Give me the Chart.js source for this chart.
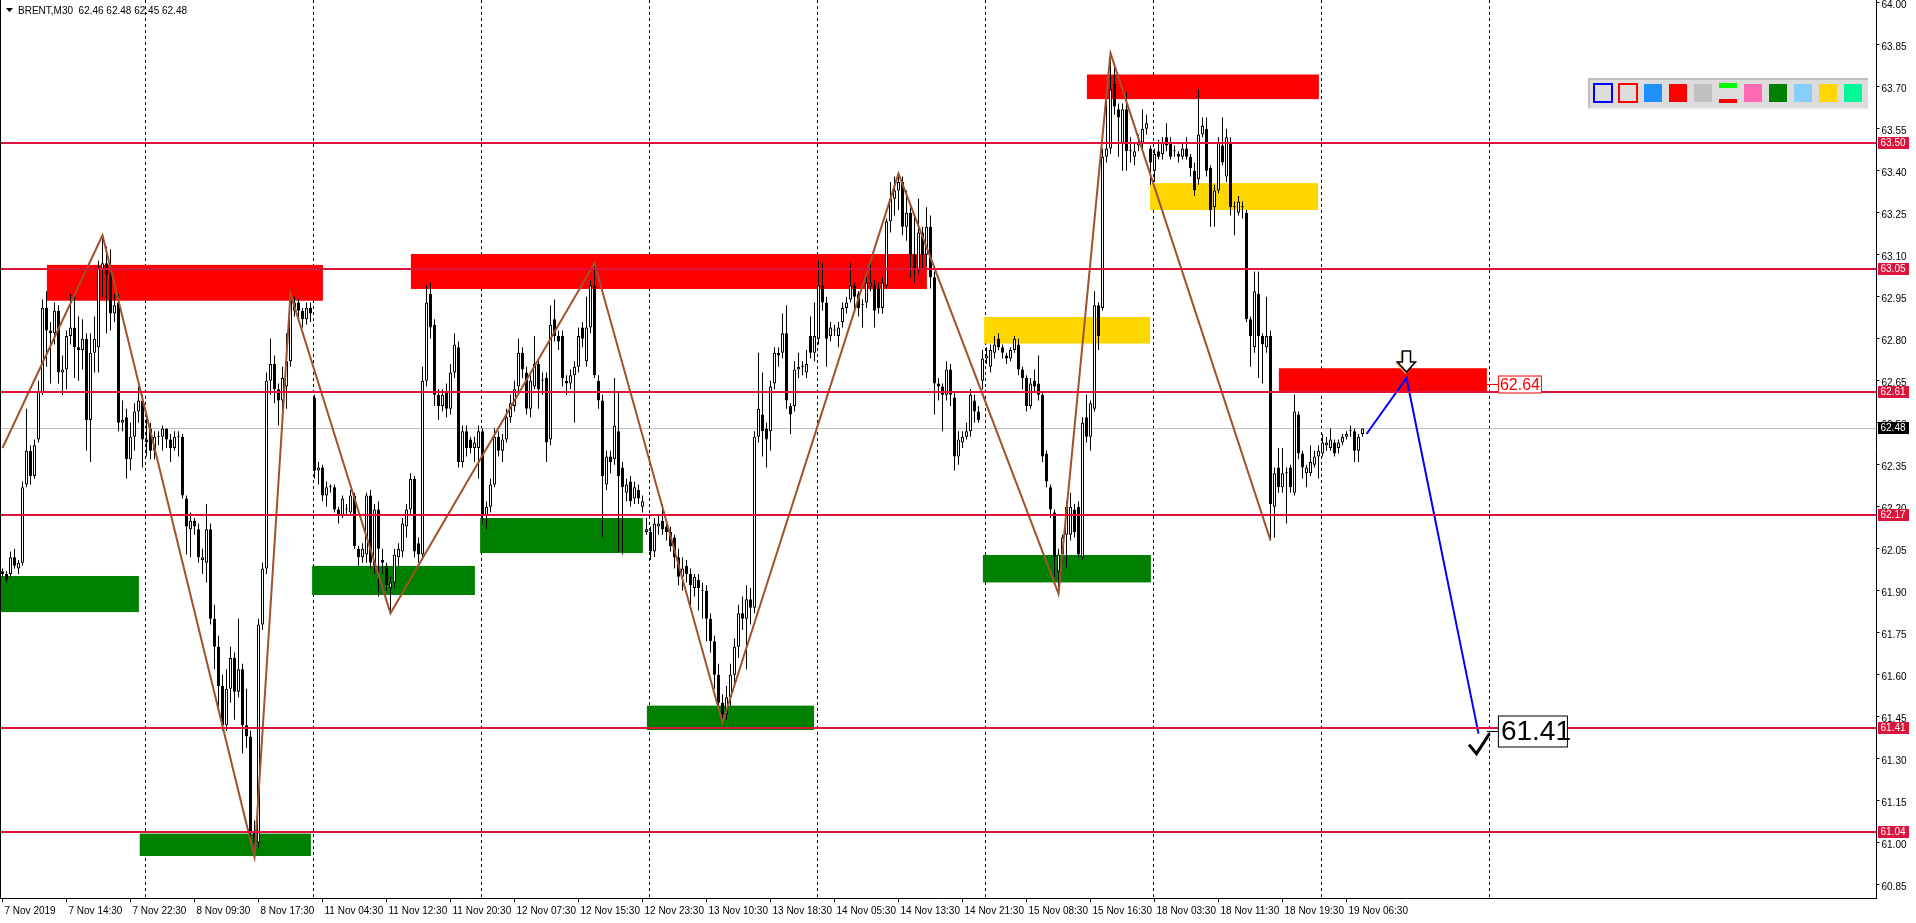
<!doctype html>
<html lang="en">
<head>
<meta charset="utf-8">
<title>BRENT,M30</title>
<script src="https://cdn.jsdelivr.net/npm/chart.js"></script>
<style>
  html, body { margin: 0; padding: 0; background: #fff; overflow: hidden; }
  canvas { display: block; }
</style>
</head>
<body>
<canvas id="chartEl" width="1916" height="923"></canvas>
<script>
// M30 candles (bar 0 = 7 Nov 06:30)
const opens = [
  61.97,61.96,61.96,62.02,61.98,62.00,62.28,62.40,62.31,62.44,
  62.61,62.91,62.83,62.82,62.90,62.68,62.69,62.81,62.84,62.77,
  62.76,62.80,62.51,62.75,62.77,63.05,63.07,63.03,62.89,62.93,
  62.50,62.52,62.37,62.45,62.54,62.58,62.44,62.48,62.40,62.45,
  62.45,62.48,62.44,62.41,62.45,62.45,62.23,62.12,62.15,62.12,
  62.01,62.00,62.12,61.80,61.70,61.56,61.42,61.55,61.66,61.54,
  61.62,61.42,61.38,61.04,61.00,61.78,61.98,62.65,62.71,62.62,
  62.58,62.63,62.72,62.90,62.93,62.90,62.87,62.91,62.59,62.33,
  62.34,62.24,62.27,62.27,62.19,62.17,62.19,62.18,62.24,62.05,
  62.02,62.03,62.24,61.99,62.19,62.01,61.99,61.91,61.93,62.02,
  62.04,62.13,62.19,62.30,62.07,62.03,62.65,62.96,62.85,62.60,
  62.56,62.61,62.55,62.68,62.77,62.36,62.47,62.44,62.41,62.41,
  62.47,62.17,62.20,62.28,62.45,62.40,62.44,62.52,62.56,62.63,
  62.75,62.68,62.55,62.63,62.71,62.65,62.66,62.44,62.87,62.81,
  62.81,62.65,62.64,62.67,62.70,62.84,62.72,62.84,62.99,62.65,
  62.58,62.28,62.38,62.37,62.47,62.34,62.25,62.29,62.23,62.26,
  62.20,62.11,62.11,62.04,62.13,62.15,62.13,62.11,62.09,62.02,
  61.95,61.99,61.96,61.91,61.94,61.90,61.90,61.80,61.72,61.60,
  61.50,61.46,61.52,61.60,61.70,61.82,61.80,61.87,61.84,62.45,
  62.53,62.48,62.47,62.64,62.75,62.75,62.82,62.56,62.56,62.69,
  62.70,62.68,62.81,62.75,62.80,62.99,62.93,62.81,62.83,62.81,
  62.86,62.91,62.94,62.99,62.96,62.92,62.93,62.99,62.99,62.98,
  62.91,62.99,63.22,63.30,63.33,63.36,63.20,63.25,63.10,63.05,
  63.18,63.10,63.20,63.02,62.64,62.63,62.60,62.69,62.59,62.38,
  62.43,62.45,62.47,62.58,62.54,62.65,62.73,62.70,62.75,62.80,
  62.77,62.74,62.73,62.76,62.78,62.69,62.66,62.56,62.65,62.64,
  62.60,62.39,62.27,62.18,61.97,62.03,62.10,62.10,62.19,62.20,
  62.02,62.52,62.45,62.55,62.92,62.91,63.45,63.48,63.71,63.62,
  63.50,63.62,63.47,63.45,63.49,63.50,63.55,63.48,63.40,63.47,
  63.46,63.52,63.50,63.47,63.46,63.45,63.48,63.45,63.40,63.37,
  63.53,63.55,63.41,63.27,63.33,63.49,63.38,63.50,63.27,63.25,
  63.27,63.25,62.87,62.77,62.96,62.81,62.77,62.81,62.20,62.34,
  62.27,62.32,62.34,62.25,62.53,62.39,62.32,62.32,62.35,62.38,
  62.39,62.42,62.41,62.43,62.41,62.43,62.45,62.47,62.47,62.40,
  62.46
];
const highs = [
  61.98,61.97,62.04,62.05,62.01,62.29,62.55,62.42,62.44,62.65,
  62.94,62.97,62.86,62.93,62.92,62.74,62.83,62.96,62.95,62.88,
  62.87,62.82,62.82,62.88,63.08,63.17,63.13,63.12,62.96,62.96,
  62.58,62.55,62.50,62.57,62.63,62.60,62.52,62.50,62.47,62.47,
  62.49,62.48,62.46,62.47,62.47,62.46,62.24,62.18,62.16,62.14,
  62.05,62.21,62.14,61.85,61.74,61.60,61.62,61.70,61.68,61.80,
  61.64,61.55,61.40,61.08,61.80,62.00,62.68,62.80,62.74,62.64,
  62.70,62.82,62.96,62.95,62.94,62.91,62.93,62.93,62.60,62.36,
  62.35,62.29,62.28,62.28,62.20,62.24,62.21,62.26,62.25,62.06,
  62.07,62.25,62.26,62.21,62.22,62.05,62.00,61.95,62.05,62.07,
  62.16,62.21,62.32,62.31,62.09,62.70,62.99,63.00,62.87,62.62,
  62.62,62.64,62.71,62.82,62.79,62.49,62.49,62.45,62.45,62.49,
  62.48,62.22,62.30,62.48,62.47,62.46,62.55,62.60,62.65,62.80,
  62.77,62.70,62.67,62.81,62.73,62.68,62.68,62.92,62.94,62.83,
  62.83,62.67,62.69,62.72,62.84,62.86,62.95,63.01,63.07,62.67,
  62.60,62.40,62.40,62.66,62.61,62.36,62.30,62.31,62.29,62.28,
  62.24,62.16,62.13,62.16,62.17,62.21,62.14,62.13,62.10,62.05,
  62.02,62.01,61.98,61.96,61.96,61.93,61.92,61.82,61.74,61.64,
  61.53,61.56,61.64,61.73,61.85,61.88,61.92,61.91,62.47,62.75,
  62.68,62.50,62.65,62.77,62.77,62.89,62.92,62.57,62.72,62.75,
  62.72,62.76,62.88,62.93,63.08,63.07,62.95,62.86,62.85,62.86,
  62.93,62.95,63.07,63.00,62.97,62.94,63.02,63.08,63.01,63.00,
  63.02,63.23,63.36,63.38,63.39,63.38,63.33,63.28,63.24,63.30,
  63.20,63.27,63.24,63.04,62.66,62.64,62.72,62.71,62.61,62.47,
  62.47,62.50,62.62,62.60,62.56,62.76,62.77,62.78,62.81,62.82,
  62.78,62.75,62.77,62.81,62.80,62.70,62.67,62.66,62.69,62.74,
  62.61,62.40,62.28,62.19,62.05,62.10,62.22,62.25,62.21,62.22,
  62.52,62.60,62.58,62.97,62.93,63.48,63.69,63.82,63.77,63.64,
  63.64,63.68,63.52,63.50,63.53,63.62,63.60,63.49,63.48,63.51,
  63.52,63.57,63.52,63.49,63.47,63.50,63.52,63.46,63.43,63.69,
  63.59,63.59,63.42,63.35,63.52,63.59,63.55,63.52,63.29,63.31,
  63.29,63.26,62.88,63.04,63.04,62.82,62.95,62.83,62.34,62.41,
  62.41,62.34,62.35,62.60,62.54,62.40,62.35,62.42,62.40,62.42,
  62.46,62.45,62.48,62.44,62.44,62.46,62.47,62.49,62.48,62.46,
  62.48
];
const lows = [
  61.95,61.93,61.95,61.98,61.96,61.99,62.27,62.28,62.30,62.43,
  62.60,62.70,62.64,62.78,62.64,62.60,62.62,62.78,62.66,62.65,
  62.69,62.40,62.36,62.68,62.68,62.95,62.82,62.83,62.86,62.47,
  62.47,62.30,62.33,62.40,62.50,62.34,62.38,62.37,62.37,62.42,
  62.40,62.41,62.36,62.40,62.38,62.23,62.03,62.02,62.10,62.00,
  61.96,61.93,61.78,61.62,61.48,61.40,61.40,61.50,61.44,61.52,
  61.32,61.34,61.00,60.95,60.98,61.76,61.96,62.60,62.57,62.49,
  62.50,62.55,62.70,62.88,62.86,62.84,62.85,62.86,62.30,62.28,
  62.22,62.20,62.25,62.18,62.14,62.16,62.17,62.17,62.05,61.99,
  62.00,62.00,61.98,61.96,61.88,61.96,61.90,61.82,61.91,61.99,
  62.02,62.09,62.17,62.02,62.00,62.01,62.63,62.80,62.56,62.51,
  62.54,62.52,62.53,62.66,62.34,62.34,62.38,62.39,62.36,62.30,
  62.14,62.12,62.18,62.27,62.38,62.36,62.43,62.50,62.54,62.61,
  62.66,62.53,62.52,62.62,62.55,62.60,62.36,62.42,62.79,62.76,
  62.63,62.60,62.62,62.50,62.68,62.77,62.70,62.82,62.66,62.55,
  62.09,62.26,62.32,62.35,62.04,62.03,62.22,62.20,62.21,62.21,
  62.18,62.10,62.01,62.02,62.10,62.10,62.08,62.04,61.98,61.92,
  61.90,61.93,61.85,61.88,61.83,61.80,61.72,61.68,61.55,61.47,
  61.43,61.44,61.49,61.57,61.66,61.76,61.62,61.78,61.82,62.43,
  62.38,62.34,62.40,62.62,62.70,62.73,62.55,62.46,62.54,62.66,
  62.67,62.66,62.73,62.72,62.78,62.90,62.70,62.79,62.81,62.77,
  62.84,62.89,62.93,62.90,62.88,62.84,62.91,62.97,62.84,62.89,
  62.89,62.98,63.18,63.24,63.26,63.17,63.15,63.02,63.00,63.03,
  63.05,63.06,62.98,62.53,62.58,62.47,62.58,62.56,62.33,62.35,
  62.41,62.44,62.45,62.50,62.50,62.62,62.71,62.68,62.73,62.76,
  62.73,62.71,62.72,62.75,62.67,62.62,62.54,62.55,62.61,62.58,
  62.36,62.27,62.16,61.95,61.89,62.00,61.98,62.08,62.09,62.02,
  62.01,62.43,62.40,62.54,62.76,62.90,63.43,63.46,63.60,63.45,
  63.40,63.40,63.43,63.42,63.47,63.48,63.53,63.35,63.36,63.44,
  63.44,63.47,63.44,63.45,63.43,63.44,63.44,63.38,63.31,63.35,
  63.52,63.38,63.20,63.20,63.32,63.42,63.36,63.24,63.17,63.24,
  63.23,62.86,62.70,62.75,62.66,62.64,62.75,62.08,62.09,62.25,
  62.25,62.14,62.25,62.24,62.37,62.30,62.27,62.31,62.34,62.30,
  62.38,62.40,62.40,62.38,62.39,62.42,62.44,62.45,62.36,62.36,
  62.45
];
const closes = [
  61.96,61.94,62.02,61.99,62.00,62.27,62.40,62.31,62.42,62.61,
  62.91,62.83,62.82,62.90,62.68,62.69,62.81,62.84,62.77,62.76,
  62.80,62.51,62.75,62.80,63.05,63.07,63.03,62.89,62.92,62.50,
  62.51,62.37,62.45,62.54,62.58,62.44,62.43,62.40,62.45,62.45,
  62.48,62.44,62.41,62.45,62.45,62.24,62.13,62.15,62.13,62.02,
  62.02,62.12,61.80,61.70,61.56,61.42,61.55,61.66,61.54,61.62,
  61.42,61.38,61.04,61.00,61.78,61.98,62.65,62.71,62.62,62.58,
  62.66,62.72,62.94,62.93,62.90,62.87,62.91,62.89,62.33,62.34,
  62.24,62.27,62.27,62.19,62.17,62.23,62.19,62.24,62.06,62.02,
  62.05,62.24,62.00,62.19,62.05,62.00,61.92,61.93,62.03,62.05,
  62.14,62.19,62.30,62.04,62.03,62.65,62.93,62.84,62.60,62.56,
  62.60,62.55,62.68,62.78,62.36,62.47,62.41,62.41,62.43,62.47,
  62.17,62.20,62.28,62.45,62.40,62.44,62.52,62.57,62.62,62.75,
  62.69,62.55,62.65,62.71,62.62,62.65,62.43,62.85,62.81,62.79,
  62.66,62.64,62.67,62.70,62.81,62.80,62.84,62.99,62.67,62.58,
  62.31,62.38,62.36,62.49,62.31,62.27,62.28,62.22,62.27,62.23,
  62.22,62.12,62.04,62.14,62.14,62.12,62.11,62.06,62.02,61.95,
  61.98,61.96,61.92,61.95,61.91,61.90,61.80,61.72,61.60,61.50,
  61.46,61.52,61.60,61.70,61.82,61.80,61.87,61.84,62.45,62.55,
  62.47,62.44,62.63,62.75,62.74,62.82,62.58,62.53,62.69,62.70,
  62.70,62.71,62.75,62.81,62.99,62.93,62.80,62.84,62.83,62.84,
  62.91,62.93,62.99,62.95,62.91,62.92,63.00,63.00,62.90,62.91,
  63.00,63.22,63.30,63.33,63.36,63.20,63.25,63.10,63.05,63.18,
  63.10,63.20,63.02,62.64,62.63,62.60,62.69,62.60,62.38,62.44,
  62.45,62.47,62.60,62.54,62.51,62.73,62.74,62.76,62.78,62.77,
  62.75,62.73,62.76,62.80,62.69,62.66,62.56,62.64,62.63,62.60,
  62.38,62.29,62.19,62.02,62.03,62.09,62.20,62.20,62.11,62.03,
  62.50,62.45,62.57,62.92,62.81,63.45,63.48,63.69,63.63,63.59,
  63.62,63.47,63.47,63.47,63.50,63.55,63.57,63.43,63.46,63.45,
  63.50,63.49,63.45,63.47,63.45,63.48,63.45,63.41,63.33,63.53,
  63.56,63.40,63.26,63.33,63.50,63.43,63.52,63.27,63.27,63.29,
  63.27,62.87,62.81,62.97,62.81,62.78,62.81,62.21,62.32,62.27,
  62.32,62.32,62.27,62.54,62.39,62.34,62.34,62.36,62.38,62.40,
  62.43,62.43,62.44,62.39,62.43,62.45,62.46,62.47,62.40,62.45,
  62.48
];

// time axis: one label every 16 bars
const timeLabels = ['7 Nov 2019', '7 Nov 14:30', '7 Nov 22:30', '8 Nov 09:30', '8 Nov 17:30',
  '11 Nov 04:30', '11 Nov 12:30', '11 Nov 20:30', '12 Nov 07:30', '12 Nov 15:30', '12 Nov 23:30',
  '13 Nov 10:30', '13 Nov 18:30', '14 Nov 05:30', '14 Nov 13:30', '14 Nov 21:30', '15 Nov 08:30',
  '15 Nov 16:30', '18 Nov 03:30', '18 Nov 11:30', '18 Nov 19:30', '19 Nov 06:30'];
const labelStep = 16;
const totalBars = 469;
const gridBars = [36, 78, 120, 162, 204, 246, 288, 330, 372];

const priceTicks = [64.00, 63.85, 63.70, 63.55, 63.40, 63.25, 63.10, 62.95, 62.80, 62.65, 62.50,
  62.35, 62.20, 62.05, 61.90, 61.75, 61.60, 61.45, 61.30, 61.15, 61.00, 60.85];
const levelPrices = [63.50, 63.05, 62.61, 62.17, 61.41, 61.04];
const lastPrice = 62.48;
const ohlcTitle = 'BRENT,M30  62.46 62.48 62.45 62.48';

// zigzag pivots
const zigzagBars = [0, 25, 63, 72, 97, 148, 180, 224, 264, 277, 317];
const zigzagPrices = [62.41, 63.17, 60.95, 62.96, 61.82, 63.07, 61.43, 63.39, 61.89, 63.82, 62.08];

// forecast path
const forecastBars = [341, 351, 369];
const forecastPrices = [62.46, 62.66, 61.39];
const entryPrice = 62.64;
const targetPrice = 61.41;
const labelBar = 371.1;

// zones: [fromBar, toBar, top, bottom]
const redZones = [[11.1, 80.1, 63.064, 62.936], [102.1, 231.1, 63.103, 62.978],
  [271.1, 329.1, 63.744, 63.656], [319.1, 371.1, 62.695, 62.61]];
const greenZones = [[-0.5, 34.1, 61.953, 61.824], [34.3, 77.1, 61.033, 60.953],
  [77.4, 118.1, 61.989, 61.885], [119.4, 160.1, 62.16, 62.035],
  [161.1, 202.9, 61.49, 61.403], [245.1, 287.1, 62.028, 61.93]];
const yellowZones = [[245.4, 286.9, 62.878, 62.783], [286.9, 328.9, 63.356, 63.26]];

const legendItems = [['outline', '#0000FF'], ['outline', '#FF0000'], ['fill', '#1E90FF'],
  ['fill', '#FF0000'], ['fill', '#C0C0C0'], ['split', '#00FF00', '#FF0000'], ['fill', '#FF69B4'],
  ['fill', '#008000'], ['fill', '#87CEFA'], ['fill', '#FFD700'], ['fill', '#00FA9A']];

const FONT = 'Liberation Sans';
const CRIMSON = '#DC143C';

const barLabels = Array.from({ length: totalBars }, (_, i) => i);
const wickData = lows.map((l, i) => [l, highs[i]]);
const bodyData = opens.map((o, i) => [o, closes[i]]);
const pointsAt = (bars, prices) => barLabels.map((i) => {
  const k = bars.indexOf(i);
  return k >= 0 ? prices[k] : null;
});

const drawZones = (ctx, xs, ys, zones, color) => {
  ctx.fillStyle = color;
  zones.forEach(([a, b, top, bottom]) => {
    const x0 = xs.getPixelForValue(a);
    const x1 = xs.getPixelForValue(b);
    const y0 = ys.getPixelForValue(top);
    const y1 = ys.getPixelForValue(bottom);
    ctx.fillRect(x0, y0, x1 - x0, y1 - y0);
  });
};

const drawAxisTag = (ctx, area, ys, price, bg) => {
  const y = ys.getPixelForValue(price);
  ctx.fillStyle = bg;
  ctx.fillRect(area.right + 1.5, Math.round(y) - 6, 31, 12);
  ctx.fillStyle = '#fff';
  ctx.font = `10px "${FONT}"`;
  ctx.textAlign = 'left';
  ctx.textBaseline = 'middle';
  ctx.fillText(price.toFixed(2), area.right + 4, Math.round(y) + 0.5);
};

const mtPlugin = {
  id: 'mtObjects',
  beforeDatasetsDraw(chart) {
    const { ctx, chartArea: area, scales: { x: xs, y: ys } } = chart;
    ctx.save();
    // dashed period separators
    ctx.strokeStyle = '#000';
    ctx.lineWidth = 1;
    ctx.setLineDash([3, 3]);
    gridBars.forEach((b) => {
      const x = Math.round(xs.getPixelForValue(b - 0.5)) + 0.5;
      ctx.beginPath();
      ctx.moveTo(x, area.top);
      ctx.lineTo(x, area.bottom);
      ctx.stroke();
    });
    ctx.setLineDash([]);
    drawZones(ctx, xs, ys, redZones, '#FF0000');
    drawZones(ctx, xs, ys, greenZones, '#008000');
    drawZones(ctx, xs, ys, yellowZones, '#FFD700');
    // current price line
    const yl = Math.round(ys.getPixelForValue(lastPrice)) + 0.5;
    ctx.strokeStyle = '#C0C0C0';
    ctx.beginPath();
    ctx.moveTo(area.left, yl);
    ctx.lineTo(area.right, yl);
    ctx.stroke();
    ctx.restore();
  },
  afterDatasetsDraw(chart) {
    const { ctx, chartArea: area, scales: { x: xs, y: ys } } = chart;
    ctx.save();
    // horizontal levels
    ctx.strokeStyle = CRIMSON;
    ctx.lineWidth = 2;
    levelPrices.forEach((p) => {
      const y = Math.round(ys.getPixelForValue(p));
      ctx.beginPath();
      ctx.moveTo(area.left, y);
      ctx.lineTo(area.right, y);
      ctx.stroke();
    });

    // down arrow over the forecast top
    const ax = xs.getPixelForValue(forecastBars[1]);
    const tip = ys.getPixelForValue(forecastPrices[1]) - 6;
    const arrowPath = (dx, dy) => {
      ctx.beginPath();
      ctx.moveTo(ax - 4 + dx, tip - 21 + dy);
      ctx.lineTo(ax + 4 + dx, tip - 21 + dy);
      ctx.lineTo(ax + 4 + dx, tip - 10 + dy);
      ctx.lineTo(ax + 9 + dx, tip - 10 + dy);
      ctx.lineTo(ax + dx, tip + dy);
      ctx.lineTo(ax - 9 + dx, tip - 10 + dy);
      ctx.lineTo(ax - 4 + dx, tip - 10 + dy);
      ctx.closePath();
    };
    ctx.lineWidth = 1.5;
    arrowPath(-1, 1);
    ctx.strokeStyle = '#F4A460';
    ctx.stroke();
    arrowPath(0, 0);
    ctx.fillStyle = '#fff';
    ctx.fill();
    ctx.strokeStyle = '#000';
    ctx.stroke();

    // check mark at the target
    const cx = xs.getPixelForValue(forecastBars[2]);
    const cy = ys.getPixelForValue(forecastPrices[2]);
    ctx.beginPath();
    ctx.moveTo(cx - 9.5, cy + 11);
    ctx.lineTo(cx - 2, cy + 20);
    ctx.lineTo(cx + 11, cy);
    ctx.lineWidth = 3;
    ctx.strokeStyle = '#000';
    ctx.stroke();

    const lx = xs.getPixelForValue(labelBar);
    // 62.64 label
    const ey = Math.round(ys.getPixelForValue(entryPrice)) + 0.5;
    ctx.lineWidth = 1;
    ctx.strokeStyle = '#FF0000';
    ctx.beginPath();
    ctx.moveTo(lx, ey);
    ctx.lineTo(lx + 11, ey);
    ctx.stroke();
    ctx.fillStyle = '#fff';
    ctx.fillRect(lx + 11, ey - 9, 44, 18);
    ctx.strokeRect(lx + 11.5, ey - 8.5, 43, 17);
    ctx.fillStyle = '#FF0000';
    ctx.font = `16px "${FONT}"`;
    ctx.textAlign = 'left';
    ctx.textBaseline = 'middle';
    ctx.fillText(entryPrice.toFixed(2), lx + 13, ey + 1);

    // 61.41 label
    const ty = Math.round(ys.getPixelForValue(targetPrice)) + 3.5;
    ctx.strokeStyle = '#000';
    ctx.beginPath();
    ctx.moveTo(lx, ty);
    ctx.lineTo(lx + 11, ty);
    ctx.stroke();
    ctx.fillStyle = '#fff';
    ctx.fillRect(lx + 11, ty - 16, 70, 32);
    ctx.strokeRect(lx + 11.5, ty - 15.5, 69, 31);
    ctx.fillStyle = '#000';
    ctx.font = `28px "${FONT}"`;
    ctx.fillText(targetPrice.toFixed(2), lx + 14, ty + 1);
    ctx.restore();
  },
  afterDraw(chart) {
    const { ctx, chartArea: area, scales: { y: ys } } = chart;
    ctx.save();
    // left frame
    ctx.fillStyle = '#000';
    ctx.fillRect(0, area.top, 1, area.bottom - area.top);

    // symbol line
    ctx.beginPath();
    ctx.moveTo(6, 8);
    ctx.lineTo(13, 8);
    ctx.lineTo(9.5, 12);
    ctx.closePath();
    ctx.fill();
    ctx.font = `10px "${FONT}"`;
    ctx.textAlign = 'left';
    ctx.textBaseline = 'middle';
    ctx.fillText(ohlcTitle, 18, 11);

    // price tags on the axis
    levelPrices.forEach((p) => drawAxisTag(ctx, area, ys, p, CRIMSON));
    drawAxisTag(ctx, area, ys, lastPrice, '#000');

    // colour panel
    const left = Math.round(area.right - 288.5);
    const top = 78;
    ctx.fillStyle = '#DCDCDC';
    ctx.fillRect(left, top, 280, 30);
    ctx.fillStyle = '#BEBEBE';
    ctx.fillRect(left, top, 280, 2);
    ctx.fillRect(left, top, 2, 30);
    ctx.fillStyle = '#F2F2F2';
    ctx.fillRect(left, top + 30, 282, 2);
    legendItems.forEach(([kind, c1, c2], i) => {
      const x = left + 5 + 25 * i;
      const y = top + 5;
      if (kind === 'outline') {
        ctx.strokeStyle = c1;
        ctx.lineWidth = 2;
        ctx.strokeRect(x + 1, y + 1, 18, 18);
      } else if (kind === 'split') {
        ctx.fillStyle = c1;
        ctx.fillRect(x + 1, y, 18, 5);
        ctx.fillStyle = c2;
        ctx.fillRect(x + 1, y + 16, 18, 4);
      } else {
        ctx.fillStyle = c1;
        ctx.fillRect(x + 1, y + 1, 18, 18);
      }
    });
    ctx.restore();
  }
};

const chart = new Chart(document.getElementById('chartEl'), {
  type: 'bar',
  data: {
    labels: barLabels,
    datasets: [
      {
        type: 'line',
        label: 'zigzag',
        data: pointsAt(zigzagBars, zigzagPrices),
        borderColor: '#A0522D',
        borderWidth: 2,
        pointRadius: 0,
        spanGaps: true,
        tension: 0,
        order: 0
      },
      {
        type: 'line',
        label: 'forecast',
        data: pointsAt(forecastBars, forecastPrices),
        borderColor: '#0000FF',
        borderWidth: 2,
        pointRadius: 0,
        spanGaps: true,
        tension: 0,
        order: 0
      },
      {
        label: 'wick',
        data: wickData,
        backgroundColor: '#000',
        borderWidth: 0,
        barThickness: 1,
        maxBarThickness: 1,
        grouped: false,
        inflateAmount: 0,
        order: 2
      },
      {
        label: 'body',
        data: bodyData,
        backgroundColor: (c) => (closes[c.dataIndex] >= opens[c.dataIndex] ? '#fff' : '#000'),
        borderColor: '#000',
        borderWidth: 1,
        borderSkipped: false,
        barThickness: 3,
        maxBarThickness: 3,
        minBarLength: 1,
        grouped: false,
        inflateAmount: 0,
        order: 1
      }
    ]
  },
  options: {
    responsive: false,
    animation: false,
    devicePixelRatio: 1,
    layout: { padding: { left: 0.5, top: 0, right: 0, bottom: 0 } },
    plugins: {
      legend: { display: false },
      tooltip: { enabled: false },
      title: { display: false }
    },
    scales: {
      x: {
        type: 'category',
        offset: true,
        border: { display: true, color: '#000' },
        grid: {
          display: true,
          drawOnChartArea: false,
          drawTicks: true,
          tickLength: 4,
          offset: false,
          color: (c) => (c.index % labelStep === 0 && c.index / labelStep < timeLabels.length ? '#000' : 'rgba(0,0,0,0)')
        },
        ticks: {
          autoSkip: false,
          maxRotation: 0,
          minRotation: 0,
          align: 'start',
          labelOffset: 2,
          padding: 3,
          color: '#000',
          font: { family: FONT, size: 10 },
          callback: (v, i) => (i % labelStep === 0 ? (timeLabels[i / labelStep] || '') : '')
        },
        afterFit: (s) => { s.height = 25; s.paddingLeft = 0; s.paddingRight = 0; }
      },
      y: {
        position: 'right',
        min: 60.803,
        max: 64.01,
        border: { display: true, color: '#000' },
        grid: { drawOnChartArea: false, drawTicks: true, tickLength: 3, color: '#000' },
        ticks: {
          color: '#000',
          padding: 2,
          labelOffset: 2,
          font: { family: FONT, size: 10 },
          callback: (v) => Number(v).toFixed(2)
        },
        afterBuildTicks: (s) => { s.ticks = priceTicks.map((v) => ({ value: v })); },
        afterFit: (s) => { s.width = 39.5; s.paddingTop = 0; s.paddingBottom = 0; }
      }
    }
  },
  plugins: [mtPlugin]
});
</script>
</body>
</html>
